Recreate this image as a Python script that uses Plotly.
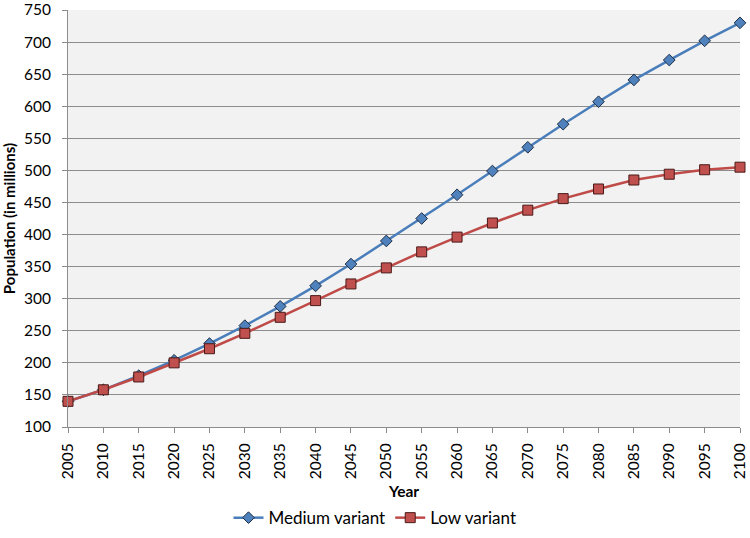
import plotly.graph_objects as go

years = list(range(2005, 2101, 5))
medium_variant = [140, 158, 180, 204, 230, 258, 288, 320, 354, 390, 425, 462, 499, 536, 572, 607, 641, 672, 702, 730]
low_variant = [140, 158, 178, 200, 222, 246, 271, 297, 323, 348, 373, 396, 418, 438, 456, 471, 485, 494, 501, 505]

FONT = "Lato"

fig = go.Figure()
fig.add_trace(go.Scatter(
    x=years, y=medium_variant, name="Medium variant", mode="lines+markers",
    line=dict(color="#4a7ebb", width=2.5),
    marker=dict(symbol="diamond", size=9, color="#4f81bd", line=dict(color="#1f2f45", width=1)),
    cliponaxis=False,
))
fig.add_trace(go.Scatter(
    x=years, y=low_variant, name="Low variant", mode="lines+markers",
    line=dict(color="#be4b48", width=2.5),
    marker=dict(symbol="square", size=10, color="#c0504d", line=dict(color="#4a1a19", width=1)),
    cliponaxis=False,
))

fig.update_layout(
    width=750, height=538,
    margin=dict(l=68, r=10, t=10, b=111, autoexpand=False),
    paper_bgcolor="white", plot_bgcolor="#f2f2f2",
    font=dict(family=FONT, size=16, color="#000000"),
    showlegend=True,
    legend=dict(orientation="h", xref="container", x=0.5, xanchor="center",
                yref="container", y=0.037, yanchor="middle", itemwidth=30,
                font=dict(family=FONT, size=17), traceorder="normal"),
    xaxis=dict(
        range=[2005, 2100], tickmode="array", tickvals=years, ticktext=[str(y) for y in years],
        tickangle=-90, showgrid=False, zeroline=False, automargin=False,
        showline=True, linecolor="#8c8c8c", linewidth=1, ticklabeloverflow="allow",
        ticks="outside", ticklen=5, tickcolor="#8c8c8c", ticklabelstandoff=4,
        title=dict(text="<b>Year</b>", font=dict(family=FONT, size=15.5)),
        tickfont=dict(family=FONT, size=15.5),
    ),
    yaxis=dict(
        range=[100, 750], tickmode="linear", tick0=100, dtick=50,
        showgrid=True, gridcolor="#8c8c8c", gridwidth=1, zeroline=False, automargin=False,
        showline=True, linecolor="#8c8c8c", linewidth=1, ticklabeloverflow="allow",
        ticks="outside", ticklen=5, tickcolor="#8c8c8c", ticklabelstandoff=8,
        title=dict(text="<b>Population (in millions)</b>", font=dict(family=FONT, size=15)),
        tickfont=dict(family=FONT, size=15.5),
    ),
)

fig.write_html("out.html", config={"displayModeBar": False},
               post_script="document.body.style.margin='0';document.body.style.overflow='hidden';")
